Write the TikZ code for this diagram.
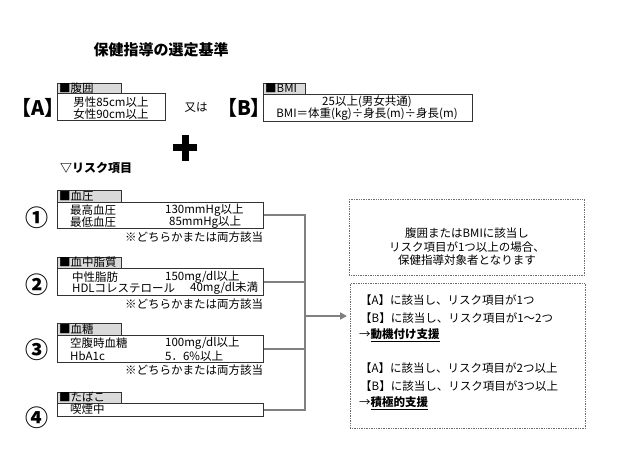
\documentclass[tikz,border=0pt]{standalone}
\usepackage{fontspec}
\setmainfont{Noto Sans CJK JP}
\usetikzlibrary{arrows.meta}
\definecolor{tabgray}{RGB}{218,218,218}
\definecolor{lngray}{RGB}{128,128,128}
\definecolor{dotgray}{RGB}{110,110,110}
\newcommand{\brkt}[1]{\makebox[0.42em][r]{【}#1\makebox[0.42em][l]{】}}
\tikzset{
  txt/.style={inner sep=0pt, font=\fontsize{11.5}{13}\selectfont},
  tabbox/.style={draw=black!80, line width=0.7pt, fill=tabgray, inner sep=0pt, anchor=north west},
  itembox/.style={draw=black!80, line width=0.7pt, fill=white, inner sep=0pt, anchor=north west},
  notebox/.style={draw=dotgray, densely dotted, line width=0.7pt, inner sep=0pt, anchor=north west},
  conn/.style={draw=lngray, line width=2pt},
  bignum/.style={inner sep=0pt, font=\fontsize{23}{25}\selectfont\bfseries},
  brk/.style={inner sep=0pt, font=\fontsize{20}{22}\selectfont\bfseries},
}
\begin{document}
\begin{tikzpicture}[x=1pt,y=-1pt]
\useasboundingbox (0,0) rectangle (620,454);
\fill[white] (0,0) rectangle (620,454);

% title
\node[inner sep=0pt, font=\fontsize{15}{17}\selectfont\bfseries] (title) at (161,50) {保健指導の選定基準};

% A block
\node[brk] (bA) at (38,108) {\brkt{A}};
\node[tabbox, minimum width=64pt, minimum height=10pt] (tA) at (57,83) {};
\node[txt, anchor=west] (tAl) at (59,88.5) {■腹囲};
\node[itembox, minimum width=108pt, minimum height=27pt] (boxA) at (57,93) {};
\node[txt] (a1) at (111,102) {男性85cm以上};
\node[txt] (a2) at (111,114) {女性90cm以上};

\node[txt] (or) at (196,108) {又は};

% B block
\node[brk] (bB) at (244,108) {\brkt{B}};
\node[tabbox, minimum width=42pt, minimum height=11pt] (tB) at (263,83) {};
\node[txt, anchor=west] (tBl) at (265,88.5) {■BMI};
\node[itembox, minimum width=209pt, minimum height=27pt] (boxB) at (263,94) {};
\node[txt] (b1) at (367,102) {25以上(男女共通)};
\node[txt] (b2) at (367,114) {BMI＝体重(kg)÷身長(m)÷身長(m)};

% plus
\fill[black] (173,144.5) rectangle (197,151.5);
\fill[black] (181.5,135) rectangle (188.5,161);

% risk heading
\node[inner sep=0pt, anchor=west, font=\fontsize{12}{14}\selectfont\bfseries] (rh) at (60,168) {▽リスク項目};

% risk 1
\node[bignum] (n1) at (37,218) {①};
\node[tabbox, minimum width=64pt, minimum height=12pt] (t1) at (57,190) {};
\node[txt, anchor=west] (t1l) at (59,196) {■血圧};
\node[itembox, minimum width=206pt, minimum height=26pt] (r1) at (57,202) {};
\node[txt, anchor=west] (r1a) at (70,210) {最高血圧};
\node[txt, anchor=west] (r1b) at (70,222) {最低血圧};
\node[txt, anchor=west] (r1c) at (165,210) {130mmHg以上};
\node[txt, anchor=west] (r1d) at (169,222) {85mmHg以上};
\node[txt, anchor=west] (r1n) at (125,237.5) {※どちらかまたは両方該当};

% risk 2
\node[bignum] (n2) at (37,285) {②};
\node[tabbox, minimum width=64pt, minimum height=11pt] (t2) at (57,257) {};
\node[txt, anchor=west] (t2l) at (59,262.5) {■血中脂質};
\node[itembox, minimum width=206pt, minimum height=27pt] (r2) at (57,268) {};
\node[txt, anchor=west] (r2a) at (72,277) {中性脂肪};
\node[txt, anchor=west] (r2b) at (72,288) {HDLコレステロール};
\node[txt, anchor=west] (r2c) at (165,277) {150mg/dl以上};
\node[txt, anchor=west] (r2d) at (190,288) {40mg/dl未満};
\node[txt, anchor=west] (r2n) at (125,304) {※どちらかまたは両方該当};

% risk 3
\node[bignum] (n3) at (37,350) {③};
\node[tabbox, minimum width=64pt, minimum height=12pt] (t3) at (57,323) {};
\node[txt, anchor=west] (t3l) at (59,329) {■血糖};
\node[itembox, minimum width=206pt, minimum height=27pt] (r3) at (57,335) {};
\node[txt, anchor=west] (r3a) at (70,343) {空腹時血糖};
\node[txt, anchor=west] (r3b) at (70,356) {HbA1c};
\node[txt, anchor=west] (r3c) at (165,343) {100mg/dl以上};
\node[txt, anchor=west] (r3d) at (165,356) {5．6\%以上};
\node[txt, anchor=west] (r3n) at (125,370) {※どちらかまたは両方該当};

% risk 4
\node[bignum] (n4) at (37,418) {④};
\node[tabbox, minimum width=64pt, minimum height=11pt] (t4) at (57,392) {};
\node[txt, anchor=west] (t4l) at (59,397.5) {■たばこ};
\node[itembox, minimum width=206pt, minimum height=13pt] (r4) at (57,403) {};
\node[txt, anchor=west] (r4a) at (70,409) {喫煙中};

% right boxes
\node[notebox, minimum width=235pt, minimum height=76pt] (c1) at (349,199) {};
\node[txt] (c1a) at (467,233) {腹囲またはBMIに該当し};
\node[txt] (c1b) at (467,247) {リスク項目が1つ以上の場合、};
\node[txt] (c1c) at (467,260.5) {保健指導対象者となります};

\node[notebox, minimum width=235pt, minimum height=145pt] (c2) at (350,283) {};
\node[txt, anchor=west] (c2a) at (360,300) {【A】に該当し、リスク項目が1つ};
\node[txt, anchor=west] (c2b) at (360,318) {【B】に該当し、リスク項目が1～2つ};
\node[txt, anchor=west] (c2c) at (359,335) {→\underline{\textbf{動機付け支援}}};
\node[txt, anchor=west] (c2d) at (360,368) {【A】に該当し、リスク項目が2つ以上};
\node[txt, anchor=west] (c2e) at (360,386) {【B】に該当し、リスク項目が3つ以上};
\node[txt, anchor=west] (c2f) at (359,403) {→\underline{\textbf{積極的支援}}};

% connectors
\coordinate (vx) at (305,0);
\coordinate (jm) at (305,316);
\draw[conn] (r1.east) -- (r1.east -| vx) -- (r4.east -| vx) -- (r4.east);
\draw[conn] (r2.east) -- (r2.east -| vx);
\draw[conn] (r3.east) -- (r3.east -| vx);
\draw[conn, -{Triangle[length=7pt,width=7pt]}, shorten >=3pt] (jm) -- (jm -| c2.west);
\end{tikzpicture}
\end{document}
